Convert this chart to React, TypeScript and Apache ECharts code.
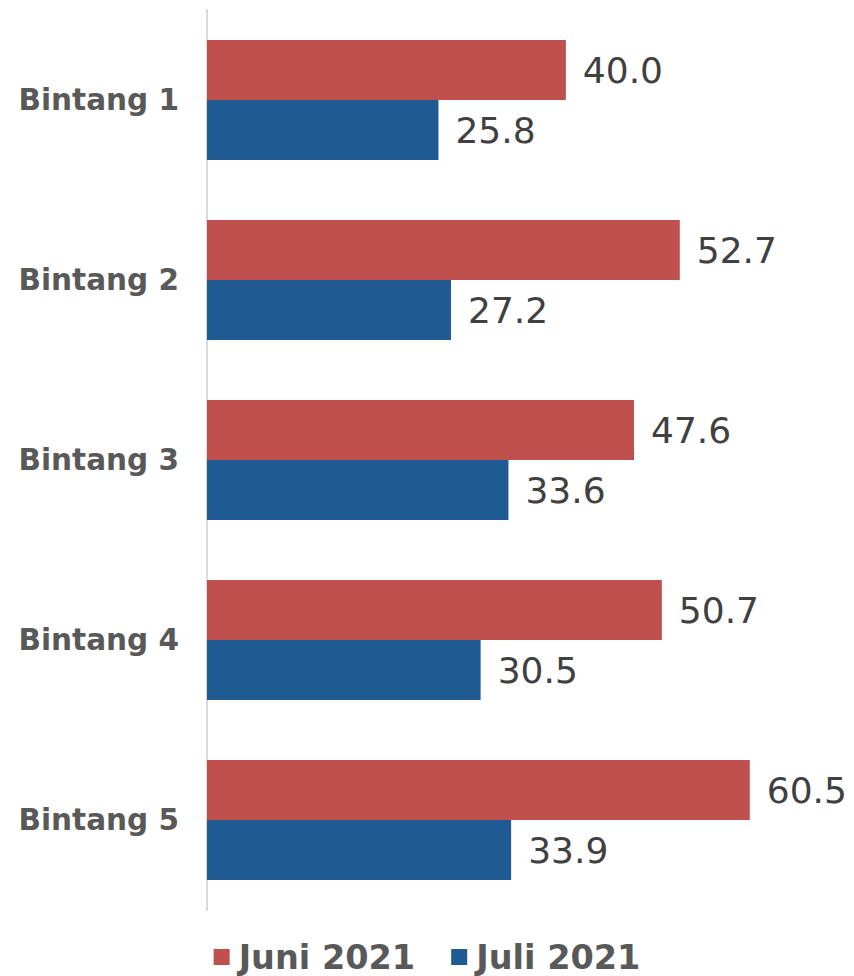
import React, { useEffect, useRef } from "react";
import * as echarts from "echarts";

const categories = ["Bintang 1", "Bintang 2", "Bintang 3", "Bintang 4", "Bintang 5"];
const juni2021 = [40.0, 52.7, 47.6, 50.7, 60.5];
const juli2021 = [25.8, 27.2, 33.6, 30.5, 33.9];
const seriesNames = ["Juni 2021", "Juli 2021"];

export default function App() {
  const ref = useRef<HTMLDivElement>(null);
  useEffect(() => {
    if (!ref.current) return;
    const chart = echarts.init(ref.current, undefined, { renderer: "svg" });
    const font = "DejaVu Sans";
    const valueLabel = {
      show: true,
      position: "right",
      distance: 17,
      formatter: (p: any) => Number(p.value).toFixed(1),
      color: "#404040",
      fontSize: 36,
      fontFamily: font,
    };
    chart.setOption({
      animation: false,
      backgroundColor: "#ffffff",
      grid: { left: 207, width: 628, top: 10, height: 900, containLabel: false },
      xAxis: {
        type: "value",
        min: 0,
        max: 70,
        show: false,
        splitLine: { show: false },
      },
      yAxis: {
        type: "category",
        data: categories,
        inverse: true,
        axisLine: { show: true, lineStyle: { color: "#D9D9D9", width: 2 } },
        axisTick: { show: false },
        axisLabel: {
          color: "#595959",
          fontSize: 29.5,
          fontWeight: "bold",
          fontFamily: font,
          margin: 28,
        },
      },
      legend: {
        data: seriesNames,
        top: 935,
        left: "center",
        itemWidth: 16,
        itemHeight: 16,
        itemGap: 36,
        icon: "rect",
        textStyle: {
          color: "#595959",
          fontSize: 33.5,
          fontWeight: "bold",
          fontFamily: font,
          padding: [0, 0, 0, 4],
        },
      },
      series: [
        {
          name: seriesNames[0],
          type: "bar",
          data: juni2021,
          barWidth: 60,
          barGap: "0%",
          itemStyle: { color: "#C0504D" },
          label: valueLabel,
        },
        {
          name: seriesNames[1],
          type: "bar",
          data: juli2021,
          barWidth: 60,
          barGap: "0%",
          itemStyle: { color: "#1F5A93" },
          label: valueLabel,
        },
      ],
    });
    return () => chart.dispose();
  }, []);
  return (
    <div
      ref={ref}
      style={{ position: "fixed", left: 0, top: 0, width: 854, height: 976, background: "#fff" }}
    />
  );
}
